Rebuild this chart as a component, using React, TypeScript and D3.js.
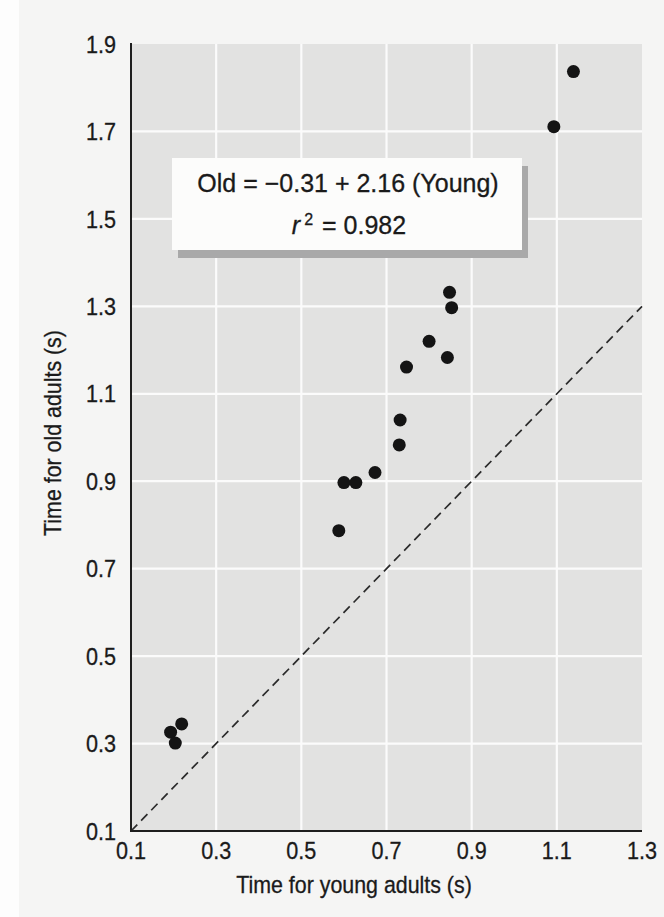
import * as d3 from "d3";

// values
const youngTimes = [1.139, 1.093, 0.848, 0.853, 0.8, 0.843, 0.747, 0.732, 0.73, 0.673, 0.6, 0.628, 0.588, 0.219, 0.193, 0.204];
const oldTimes = [1.837, 1.711, 1.332, 1.297, 1.22, 1.183, 1.161, 1.04, 0.983, 0.92, 0.897, 0.897, 0.787, 0.345, 0.326, 0.301];
const xTicks = [0.1, 0.3, 0.5, 0.7, 0.9, 1.1, 1.3];
const yTicks = [0.1, 0.3, 0.5, 0.7, 0.9, 1.1, 1.3, 1.5, 1.7, 1.9];
const equationText = "Old = \u22120.31 + 2.16 (Young)";
const r2Value = "0.982";

const W = 664;
const H = 917;
const font = "'Liberation Sans', Arial, Helvetica, sans-serif";
// the book's face is a bit narrower than Arial
const narrow = 0.9;
const ink = "#1a1a1a";

export default function App() {
  const x = d3.scaleLinear().domain([0.1, 1.3]).range([131, 642]);
  const y = d3.scaleLinear().domain([0.1, 1.9]).range([831, 44]);

  const [x0, x1] = x.range();
  const [y0, y1] = y.range();

  const diag = d3.line<[number, number]>()
    .x(d => x(d[0]))
    .y(d => y(d[1]));

  const points = youngTimes.map((v, i) => ({ young: v, old: oldTimes[i] }));

  return (
    <svg
      width={W}
      height={H}
      style={{ position: "absolute", left: 0, top: 0, display: "block" }}
      fontFamily={font}
    >
      {/* page */}
      <rect x={0} y={0} width={W} height={H} fill="#f5f5f4" />
      <rect x={0} y={0} width={19} height={H} fill="#fdfdfd" />

      {/* plot panel */}
      <rect x={x0} y={y1} width={x1 - x0} height={y0 - y1} fill="#e2e2e1" />

      {/* grid */}
      <g stroke="#fbfbfb" strokeWidth={2.2}>
        {xTicks.slice(1, -1).map(t => (
          <line key={"gx" + t} x1={x(t)} x2={x(t)} y1={y1} y2={y0} />
        ))}
        {yTicks.slice(1, -1).map(t => (
          <line key={"gy" + t} x1={x0} x2={x1} y1={y(t)} y2={y(t)} />
        ))}
      </g>

      {/* line of equality */}
      <path
        d={diag([[0.1, 0.1], [1.3, 1.3]]) || ""}
        fill="none"
        stroke="#2a2a2a"
        strokeWidth={1.7}
        strokeDasharray="9 5.5"
      />

      {/* axes */}
      <line x1={x0} x2={x0} y1={y1 - 1} y2={y0 + 1} stroke="#1e1e1e" strokeWidth={2} />
      <line x1={x0 - 1} x2={x1} y1={y0} y2={y0} stroke="#1e1e1e" strokeWidth={2} />

      {/* points */}
      <g fill="#141414">
        {points.map((p, i) => (
          <circle key={i} cx={x(p.young)} cy={y(p.old)} r={6.5} />
        ))}
      </g>

      {/* regression box */}
      <rect x={178} y={166} width={350} height={92} fill="#a9a9a9" />
      <rect x={172} y={158} width={350} height={92} fill="#fcfcfb" />
      <g fill={ink} stroke={ink} strokeWidth={0.3}>
        <text x={348} y={192} textAnchor="middle" fontSize={25}>
          {equationText}
        </text>
        <text x={349} y={234} textAnchor="middle" fontSize={25}>
          <tspan fontStyle="italic">r</tspan>
          <tspan fontSize={16} dx={4} dy={-9}>2</tspan>
          <tspan dx={2} dy={9}>{" = " + r2Value}</tspan>
        </text>
      </g>

      {/* tick labels */}
      <g fontSize={24} fill={ink} stroke={ink} strokeWidth={0.3}>
        {xTicks.map(t => (
          <text
            key={"tx" + t}
            transform={`translate(${x(t)},859) scale(${narrow},1)`}
            textAnchor="middle"
          >
            {t.toFixed(1)}
          </text>
        ))}
        {yTicks.map(t => (
          <text
            key={"ty" + t}
            transform={`translate(116,${y(t)}) scale(${narrow},1)`}
            dy="0.36em"
            textAnchor="end"
          >
            {t.toFixed(1)}
          </text>
        ))}
      </g>

      {/* axis titles */}
      <g fontSize={23.5} fill={ink} stroke={ink} strokeWidth={0.3}>
        <text transform={`translate(354,893) scale(0.91,1)`} textAnchor="middle">
          Time for young adults (s)
        </text>
        <text transform={`translate(61,433) rotate(-90) scale(0.91,1)`} textAnchor="middle">
          Time for old adults (s)
        </text>
      </g>
    </svg>
  );
}
